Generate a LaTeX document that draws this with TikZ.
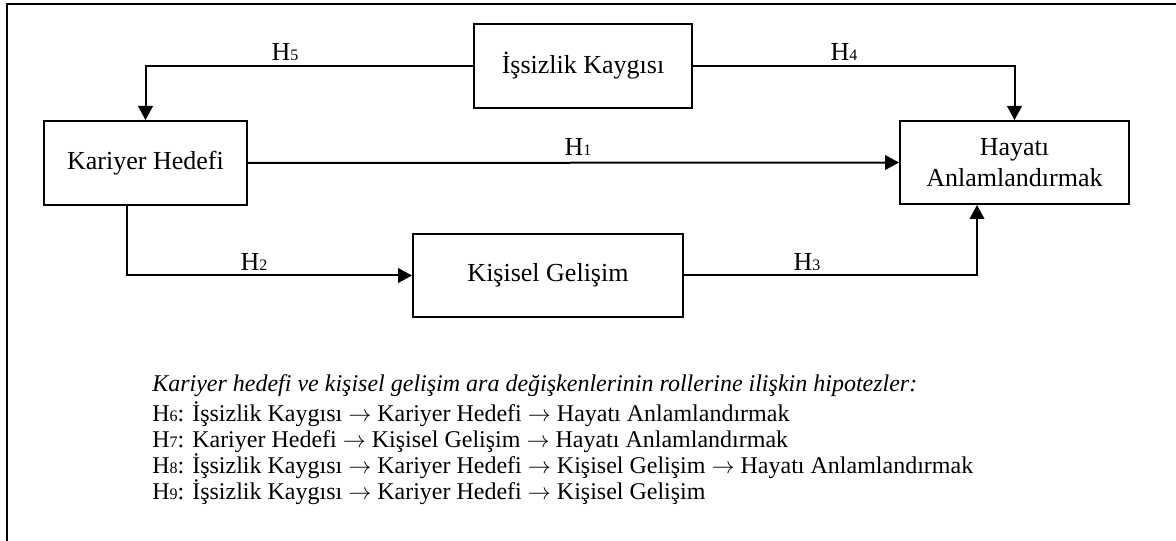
\documentclass[tikz,border=0pt]{standalone}
\usepackage{fontspec}
\setmainfont{Liberation Serif}
\usetikzlibrary{arrows.meta}
\newcommand{\pxu}{0.75pt}
\newcommand{\hsub}[1]{H{\fontsize{12}{12}\selectfont #1}}
\newcommand{\ra}{\ensuremath{\rightarrow}}
\tikzset{
	varbox/.style={draw, line width=1.5pt, inner sep=0pt, align=center, font=\fontsize{19.5}{23.4}\selectfont},
	path/.style={line width=1.5pt, -{Triangle[width=11pt,length=10.5pt]}},
	lbl/.style={inner sep=0pt, font=\fontsize{19.5}{23.4}\selectfont},
	hyp/.style={inner sep=0pt, anchor=base west, font=\fontsize{18}{21}\selectfont}
}
\begin{document}
\begin{tikzpicture}[x=\pxu, y=-\pxu]
		\useasboundingbox (0,0) rectangle (1176,541);
		%frame
		\draw[line width=1.5pt] (6.5,541) -- (6.5,4) -- (1176,4);
		
		%variables
		\node[varbox, minimum width=218*\pxu, minimum height=84*\pxu] (isz) at (583, 66){İşsizlik Kaygısı};
		\node[varbox, minimum width=203*\pxu, minimum height=84*\pxu] (kar) at (145.5, 163){Kariyer Hedefi};
		\node[varbox, minimum width=229*\pxu, minimum height=83*\pxu] (hay) at (1014.5, 162.5){Hayatı\\Anlamlandırmak};
		\node[varbox, minimum width=270*\pxu, minimum height=83*\pxu] (kis) at (548, 275.5){Kişisel Gelişim};
		
		%paths
		\draw[path] (isz.west) -| (kar.north);
		\draw[path] (isz.east) -| (hay.north);
		\draw[path] (kar.east) -- (hay.west);
		\draw[path] ([xshift=-18.5*\pxu]kar.south) |- (kis.west);
		\draw[path] (kis.east) -| ([xshift=-37.5*\pxu]hay.south);
		
		\node[lbl] (h5) at (285, 52){\hsub{5}};
		\node[lbl] (h4) at (844, 52){\hsub{4}};
		\node[lbl] (h1) at (578, 147){\hsub{1}};
		\node[lbl] (h2) at (254, 262){\hsub{2}};
		\node[lbl] (h3) at (807, 262){\hsub{3}};
		
		%hypotheses
		\node[hyp] (hh) at (152, 391){\itshape Kariyer hedefi ve kişisel gelişim ara değişkenlerinin rollerine ilişkin hipotezler:};
		\node[hyp] (h6) at (152, 421){\hsub{6}: İşsizlik Kaygısı \ra{} Kariyer Hedefi \ra{} Hayatı Anlamlandırmak};
		\node[hyp] (h7) at (152, 447){\hsub{7}: Kariyer Hedefi \ra{} Kişisel Gelişim \ra{} Hayatı Anlamlandırmak};
		\node[hyp] (h8) at (152, 473){\hsub{8}: İşsizlik Kaygısı \ra{} Kariyer Hedefi \ra{} Kişisel Gelişim \ra{} Hayatı Anlamlandırmak};
		\node[hyp] (h9) at (152, 499){\hsub{9}: İşsizlik Kaygısı \ra{} Kariyer Hedefi \ra{} Kişisel Gelişim};
		\end{tikzpicture}
\end{document}
